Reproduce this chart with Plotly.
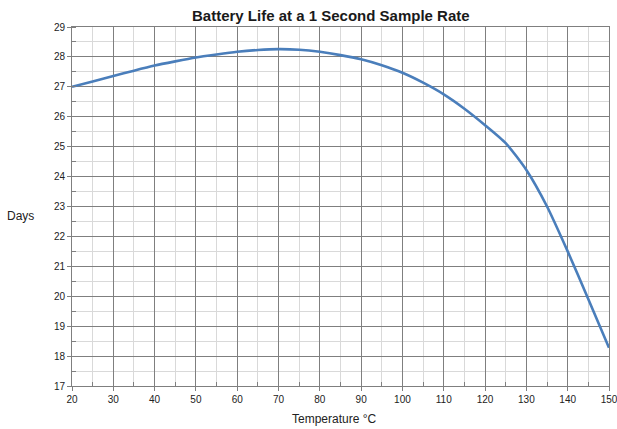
import plotly.graph_objects as go

temperature_c = [20, 25, 30, 35, 40, 45, 50, 55, 60, 65, 70, 75, 80, 85, 90, 95,
                 100, 105, 110, 115, 120, 125, 130, 135, 140, 145, 150]
battery_days = [27.00, 27.18, 27.36, 27.54, 27.71, 27.85, 27.98, 28.08, 28.17, 28.23,
                28.26, 28.24, 28.17, 28.06, 27.92, 27.72, 27.47, 27.14, 26.75, 26.27,
                25.72, 25.12, 24.22, 23.00, 21.50, 19.90, 18.28]

title_text = "Battery Life at a 1 Second Sample Rate"
x_title = "Temperature °C"
y_title = "Days"

W, H = 617, 429
L, R, T, B = 72, 8, 27, 43
pw, ph = W - L - R, H - T - B

def px_x(p):
    return (p - L) / pw

def px_y(p):
    return (H - B - p) / ph

fig = go.Figure()
fig.add_trace(go.Scatter(
    x=temperature_c, y=battery_days, mode="lines",
    line=dict(color="#4a7ebb", width=2.6, shape="spline", smoothing=0.6),
    hoverinfo="skip", showlegend=False,
))

major = "#7f7f7f"
minor = "#d9d9d9"
tickfont = dict(family="Liberation Sans, Arial, sans-serif", size=10, color="#222222")

fig.update_xaxes(
    range=[20, 150], tickmode="array", tickvals=list(range(20, 151, 10)),
    showgrid=True, gridcolor=major, gridwidth=1,
    showline=True, linecolor=major, linewidth=1, mirror=True,
    ticks="outside", ticklen=4, tickcolor=major, tickfont=tickfont,
    ticklabeloverflow="allow",
    minor=dict(tickmode="array", tickvals=list(range(25, 150, 10)), showgrid=True,
               gridcolor=minor, gridwidth=1, ticks="inside", ticklen=4, tickcolor=major),
    zeroline=False, fixedrange=True, automargin=False,
)
fig.update_yaxes(
    range=[17, 29], tick0=17, dtick=1, showgrid=True, gridcolor=major, gridwidth=1,
    showline=True, linecolor=major, linewidth=1, mirror=True,
    ticks="outside", ticklen=4, tickcolor=major, tickfont=tickfont,
    ticklabeloverflow="allow",
    minor=dict(dtick=0.5, showgrid=True, gridcolor=minor, gridwidth=1,
               ticks="inside", ticklen=4, tickcolor=major),
    zeroline=False, fixedrange=True, automargin=False,
)

fig.add_annotation(
    text=f"<b>{title_text}</b>", xref="paper", yref="paper",
    x=px_x(331), y=px_y(15), xanchor="center", yanchor="middle", showarrow=False,
    font=dict(family="Liberation Sans Narrow, Liberation Sans, Arial, sans-serif", size=15, color="#1a1a1a"),
)
fig.add_annotation(
    text=x_title, xref="paper", yref="paper",
    x=px_x(334), y=px_y(419), xanchor="center", yanchor="middle", showarrow=False,
    font=dict(family="Liberation Sans, Arial, sans-serif", size=12, color="#222222"),
)
fig.add_annotation(
    text=y_title, xref="paper", yref="paper",
    x=px_x(20), y=px_y(216), xanchor="center", yanchor="middle", showarrow=False,
    font=dict(family="Liberation Sans, Arial, sans-serif", size=12, color="#222222"),
)

fig.update_layout(
    width=W, height=H, margin=dict(l=L, r=R, t=T, b=B, autoexpand=False),
    paper_bgcolor="white", plot_bgcolor="white", showlegend=False,
)

fig.write_html(
    "out.html",
    config=dict(displayModeBar=False),
    post_script="document.body.style.margin='0';document.body.style.overflow='hidden';",
)
